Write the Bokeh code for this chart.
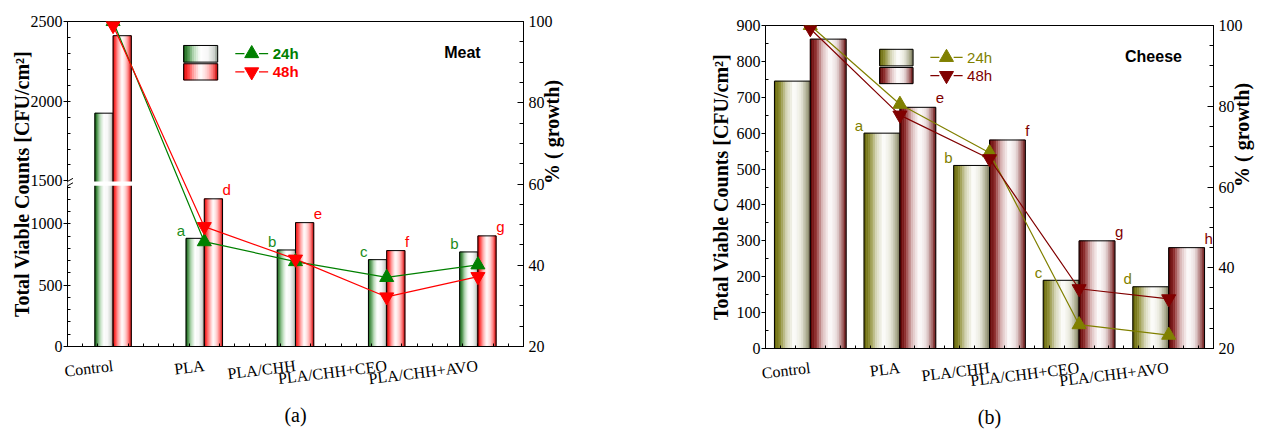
import math
import numpy as np
from bokeh.plotting import figure
from bokeh.layouts import row, column
from bokeh.models import Range1d, LinearAxis, FixedTicker, Label, BoxAnnotation, Arrow, Spacer
from bokeh.embed import file_html
from bokeh.resources import INLINE
from bokeh.core.properties import value

# ---------------- data ----------------
categories = ["Control", "PLA", "PLA/CHH", "PLA/CHH+CEO", "PLA/CHH+AVO"]
series_labels = ["24h", "48h"]

meat_24h_counts = [1925, 882, 787, 708, 771]
meat_48h_counts = [2411, 1204, 1010, 782, 902]
meat_24h_pct = [100, 45.8, 40.9, 37.0, 40.1]
meat_48h_pct = [99, 49.5, 41.5, 32.2, 37.2]
meat_24h_letters = ["", "a", "b", "c", "b"]
meat_48h_letters = ["", "d", "e", "f", "g"]

cheese_24h_counts = [745, 600, 510, 190, 172]
cheese_48h_counts = [862, 672, 581, 300, 281]
cheese_24h_pct = [100, 80.5, 68.5, 25.9, 23.3]
cheese_48h_pct = [99.2, 77.8, 67.0, 34.8, 32.3]
cheese_24h_letters = ["", "a", "b", "c", "d"]
cheese_48h_letters = ["", "e", "f", "g", "h"]

meat_count_ticks = [0, 500, 1000, 1500, 2000, 2500]
cheese_count_ticks = [0, 100, 200, 300, 400, 500, 600, 700, 800, 900]
pct_ticks = [20, 40, 60, 80, 100]
panel_titles = ["Meat", "Cheese"]
panel_tags = ["(a)", "(b)"]
count_axis_title = "Total Viable Counts [CFU/cm\u00b2]"
pct_axis_title = "% ( growth)"

# broken axis for meat panel
BREAK_LOW = 1350
BREAK_HIGH = 1500
UPPER_SCALE = 1.3


def meat_scale(v):
    v = np.asarray(v, dtype=float)
    return np.where(v <= BREAK_LOW, v, BREAK_LOW + (v - BREAK_HIGH) * UPPER_SCALE)


def ident_scale(v):
    return np.asarray(v, dtype=float)


# ---------------- style ----------------
SERIF = "Liberation Serif"
SANS = "Liberation Sans"


def hex2rgb(h):
    h = h.lstrip("#")
    return np.array([int(h[i:i + 2], 16) for i in (0, 2, 4)], dtype=float)


def grad_color(stops, t):
    ts = [s[0] for s in stops]
    for i in range(len(stops) - 1):
        if ts[i] <= t <= ts[i + 1]:
            f = (t - ts[i]) / (ts[i + 1] - ts[i])
            c = hex2rgb(stops[i][1]) * (1 - f) + hex2rgb(stops[i + 1][1]) * f
            return "#%02x%02x%02x" % tuple(int(round(x)) for x in c)
    return stops[-1][1]


green_stops = [(0, "#0b520b"), (0.12, "#3d8a3d"), (0.3, "#b5d8b5"), (0.5, "#ffffff"),
               (0.72, "#f6f6f6"), (0.9, "#d0d6d0"), (1, "#8a968a")]
red_stops = [(0, "#c80000"), (0.12, "#ff2a2a"), (0.3, "#ffa5a5"), (0.5, "#ffffff"),
             (0.7, "#ffd0d0"), (0.88, "#ff6a6a"), (1, "#c00000")]
olive_stops = [(0, "#5f5f00"), (0.15, "#8a8a2e"), (0.35, "#d6d6b8"), (0.55, "#ffffff"),
               (0.75, "#e8e8dc"), (0.9, "#b0b094"), (1, "#77775a")]
maroon_stops = [(0, "#5a0000"), (0.15, "#8c2a2a"), (0.35, "#dcbcbc"), (0.55, "#ffffff"),
                (0.75, "#eadcdc"), (0.9, "#a87070"), (1, "#6a1010")]


def gradient_bars(p, xs, tops, width, stops, bottoms=0, n=16, y_range_name="default"):
    xs = np.asarray(xs, dtype=float)
    for k in range(n):
        c = grad_color(stops, (k + 0.5) / n)
        off = -width / 2 + (k + 0.5) * width / n
        p.vbar(x=xs + off, width=width / n, top=tops, bottom=bottoms,
               fill_color=c, line_color=c, line_width=0.6, y_range_name=y_range_name)
    p.vbar(x=xs, width=width, top=tops, bottom=bottoms, fill_color=None,
           line_color="black", line_width=1, y_range_name=y_range_name)


def make_panel(c24, c48, p24, p48, l24, l48, scale, count_ticks, count_minor,
               bar_w, stops24, stops48, col24, col48, txt24, txt48, legend_bold,
               title, tag, width, height, bl, br, bt, bb, broken, ylab_standoff,
               tag_standoff):
    xs = np.arange(len(categories), dtype=float)
    ymax = float(scale([count_ticks[-1]])[0])
    p = figure(width=width, height=height, x_range=Range1d(-0.5, 4.5),
               y_range=Range1d(0, ymax), output_backend="svg", toolbar_location=None,
               min_border_left=bl, min_border_right=br, min_border_top=bt,
               min_border_bottom=bb)
    p.extra_y_ranges = {"pct": Range1d(20, 100)}
    p.xgrid.visible = False
    p.ygrid.visible = False
    p.outline_line_color = "black"
    p.outline_line_width = 1
    p.background_fill_color = "white"
    p.border_fill_color = "white"

    # x axis
    xa = p.xaxis[0]
    xa.ticker = FixedTicker(ticks=list(xs), minor_ticks=[-0.5 + k / 6 for k in range(31)])
    xa.major_label_overrides = {i: c for i, c in enumerate(categories)}
    xa.major_label_orientation = 0.12
    xa.major_label_text_font = SERIF
    xa.major_label_text_font_size = "16px"
    xa.major_label_text_color = "black"
    xa.major_label_standoff = 19
    xa.major_tick_in = 0
    xa.major_tick_out = 0
    xa.minor_tick_in = 3
    xa.minor_tick_out = 0
    xa.axis_line_color = "black"
    xa.axis_label = tag
    xa.axis_label_text_font = SERIF
    xa.axis_label_text_font_size = "20px"
    xa.axis_label_text_font_style = "normal"
    xa.axis_label_text_color = "black"
    xa.axis_label_standoff = tag_standoff

    # left y axis (counts)
    ya = p.yaxis[0]
    disp = [int(round(float(scale([t])[0]))) for t in count_ticks]
    ya.ticker = FixedTicker(ticks=disp, minor_ticks=[float(m) for m in count_minor])
    ya.major_label_overrides = {d: str(t) for d, t in zip(disp, count_ticks)}
    ya.major_label_text_font = SERIF
    ya.major_label_text_font_size = "16px"
    ya.major_label_text_color = "black"
    ya.major_label_standoff = 1
    ya.major_tick_in = 0
    ya.major_tick_out = 4
    ya.minor_tick_in = 3
    ya.minor_tick_out = 0
    ya.axis_line_color = "black"
    ya.axis_label = count_axis_title
    ya.axis_label_text_font = SERIF
    ya.axis_label_text_font_style = "bold"
    ya.axis_label_text_font_size = "20px"
    ya.axis_label_text_color = "black"
    ya.axis_label_standoff = ylab_standoff

    # right axis (percent)
    ra = LinearAxis(y_range_name="pct",
                    ticker=FixedTicker(ticks=pct_ticks, minor_ticks=list(range(20, 101, 5))))
    ra.major_label_text_font = SERIF
    ra.major_label_text_font_size = "16px"
    ra.major_label_text_color = "black"
    ra.major_label_standoff = 5
    ra.major_tick_in = 6
    ra.major_tick_out = 0
    ra.minor_tick_in = 4
    ra.minor_tick_out = 0
    ra.axis_line_color = "black"
    ra.axis_label = pct_axis_title
    ra.axis_label_orientation = math.pi / 2
    ra.axis_label_text_font = SERIF
    ra.axis_label_text_font_style = "bold"
    ra.axis_label_text_font_size = "20px"
    ra.axis_label_text_color = "black"
    ra.axis_label_standoff = -4
    p.add_layout(ra, "right")

    # bars
    gradient_bars(p, xs - bar_w / 2, scale(c24), bar_w, stops24)
    gradient_bars(p, xs + bar_w / 2, scale(c48), bar_w, stops48)

    if broken:
        lo = BREAK_LOW - 40
        hi = BREAK_LOW - 4
        p.add_layout(BoxAnnotation(left=-0.56, right=0.25, bottom=lo, top=hi,
                                   fill_color="white", fill_alpha=1.0, line_alpha=0,
                                   level="overlay"))
        for yy in (lo, hi):
            p.add_layout(Arrow(end=None, x_start=-0.56, y_start=yy - 25,
                               x_end=-0.44, y_end=yy + 25, line_color="black",
                               line_width=1, level="overlay"))

    # letters
    p.text(x=xs - bar_w, y=scale(c24), text=l24, text_align="right",
           text_baseline="middle", x_offset=-1, y_offset=-8,
           text_font=value(SANS), text_font_size="15px", text_color=txt24)
    p.text(x=xs + bar_w, y=scale(c48), text=l48, text_align="left",
           text_baseline="middle", x_offset=0, y_offset=-9,
           text_font=value(SANS), text_font_size="15px", text_color=txt48)

    # percent lines
    p.line(xs, p24, y_range_name="pct", line_color=col24, line_width=1.2)
    p.line(xs, p48, y_range_name="pct", line_color=col48, line_width=1.2)
    p.scatter(xs, p24, y_range_name="pct", marker="triangle", size=14,
              fill_color=col24, line_color=col24)
    p.scatter(xs, p48, y_range_name="pct", marker="inverted_triangle", size=14,
              fill_color=col48, line_color=col48)

    # legend (drawn manually)
    sw_x = 0.96
    sw_w = 0.373
    gradient_bars(p, [sw_x], [94.1], sw_w, stops24, bottoms=[90.0], y_range_name="pct")
    gradient_bars(p, [sw_x], [89.6], sw_w, stops48, bottoms=[85.6], y_range_name="pct")
    for yy, col, mk, lab in ((92.1, col24, "triangle", series_labels[0]),
                             (87.6, col48, "inverted_triangle", series_labels[1])):
        p.segment(x0=[1.34, 1.60], y0=[yy, yy], x1=[1.44, 1.70], y1=[yy, yy],
                  y_range_name="pct", line_color=col, line_width=1.2)
        p.scatter([1.52], [yy], y_range_name="pct", marker=mk, size=14,
                  fill_color=col, line_color=col)
        p.add_layout(Label(x=1.75, y=yy, y_range_name="pct", text=lab,
                           text_font=SANS, text_font_size="15px",
                           text_font_style="bold" if legend_bold else "normal",
                           text_color=col, text_baseline="middle", text_align="left"))

    p.add_layout(Label(x=3.83, y=92.3, y_range_name="pct", text=title,
                       text_font=SANS, text_font_size="16px", text_font_style="bold",
                       text_color="black", text_align="center", text_baseline="middle"))
    return p


meat_minor = [float(v) for v in meat_scale(list(range(100, 1350, 100)) + list(range(1600, 2500, 100)))]
cheese_minor = list(range(50, 900, 100))

p1 = make_panel(meat_24h_counts, meat_48h_counts, meat_24h_pct, meat_48h_pct,
                meat_24h_letters, meat_48h_letters, meat_scale, meat_count_ticks, meat_minor,
                0.2, green_stops, red_stops, "#008000", "#ff0000", "#1a8c1a", "#ff0000", True,
                panel_titles[0], panel_tags[0], 700, 430, 67, 177, 21, 84, True, -5, 5)
p2 = make_panel(cheese_24h_counts, cheese_48h_counts, cheese_24h_pct, cheese_48h_pct,
                cheese_24h_letters, cheese_48h_letters, ident_scale, cheese_count_ticks,
                cheese_minor, 0.4, olive_stops, maroon_stops, "#808000", "#800000",
                "#808000", "#800000", False,
                panel_titles[1], panel_tags[1], 566, 426, 65, 45, 21, 80, False, 2, 5)

layout = row(p1, column(Spacer(width=566, height=4), p2))
open("out.html", "w").write(file_html(layout, INLINE))
